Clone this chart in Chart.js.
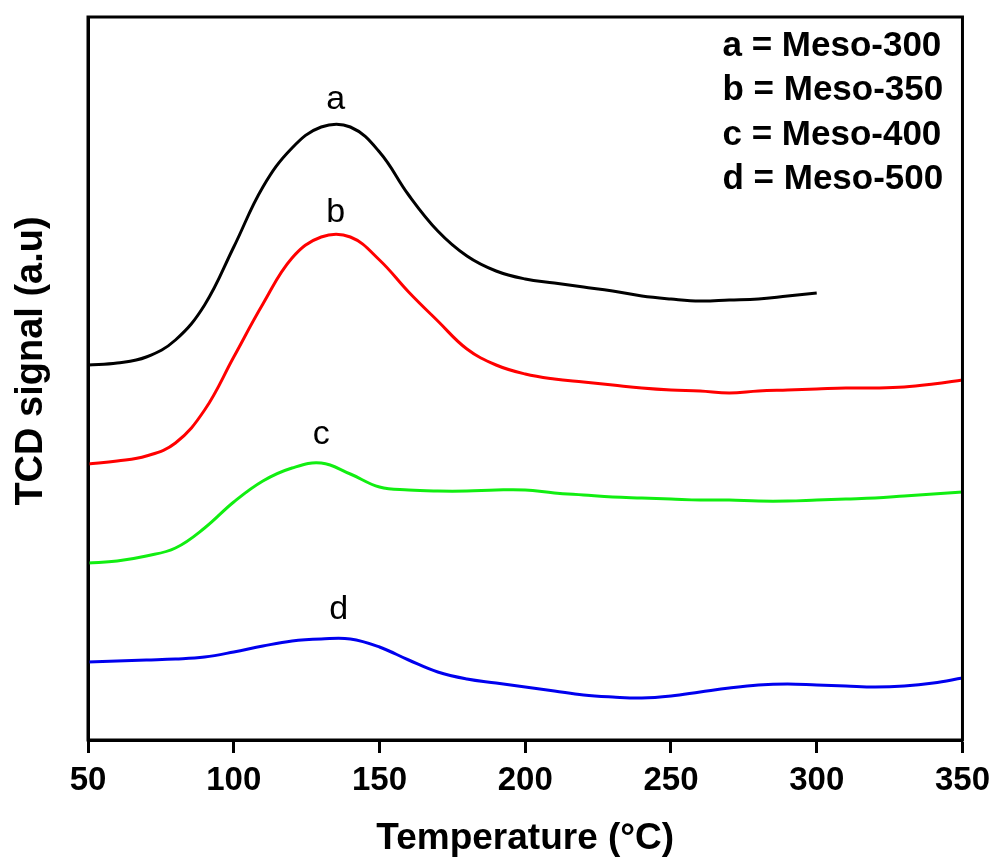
<!DOCTYPE html>
<html>
<head>
<meta charset="utf-8">
<script src="https://cdn.jsdelivr.net/npm/chart.js@4/dist/chart.umd.min.js"></script>
<style>
  html, body { margin: 0; padding: 0; background: #fff; }
  #wrap { width: 998px; height: 861px; }
</style>
</head>
<body>
<div id="wrap"><canvas id="tpd"></canvas></div>
<script>
// TCD signal (arbitrary units) vs temperature, read every 10 degC
var temps_a = [50, 60, 70, 80, 90, 100, 110, 120, 130, 140, 150, 160, 170, 180, 190, 200, 210, 220, 230, 240, 250, 260, 270, 280, 290, 300];
var signal_a = [375, 377, 383, 400, 435, 493, 553, 592, 613, 613, 588, 545, 509, 484, 469, 461, 457, 453, 449, 444, 441, 439, 440, 441, 444, 447];

var temps = [50, 60, 70, 80, 90, 100, 110, 120, 130, 140, 150, 160, 170, 180, 190, 200, 210, 220, 230, 240, 250, 260, 270, 280, 290, 300, 310, 320, 330, 340, 350];
var signal_b = [276, 279, 284, 297, 330, 383, 436, 482, 503, 503, 480, 448, 419, 391, 375, 366, 361, 358, 355, 352, 350, 349, 347, 349, 350, 351, 352, 352, 353, 356, 360];
var signal_c = [177, 179, 184, 192, 212, 238, 259, 272, 277, 266, 253, 250, 249, 249, 250, 250, 247, 245, 243, 242, 241, 240, 240, 239, 239, 240, 241, 242, 244, 246, 248];
var signal_d = [78, 79, 80, 81, 83, 88, 94, 99, 101, 101, 93, 80, 68, 61, 57, 53, 49, 45, 43, 42, 44, 48, 52, 55, 56, 55, 54, 53, 54, 57, 62];

var curve_tags = ['a', 'b', 'c', 'd'];
var curve_names = ['Meso-300', 'Meso-350', 'Meso-400', 'Meso-500'];
var curve_colors = ['#000000', '#ff0000', '#11ee11', '#0000ee'];
// where each letter sits, in data units
var tag_x = [135, 135, 130, 136];
var tag_y = [640, 527, 305, 130];

function to_points(xs, ys) {
    var pts = [];
    for (var i = 0; i < xs.length; i++) {
        pts.push({x: xs[i], y: ys[i]});
    }
    return pts;
}

function line_set(label, xs, ys, color) {
    return {
        label: label,
        data: to_points(xs, ys),
        borderColor: color,
        borderWidth: 3,
        pointRadius: 0,
        fill: false,
        tension: 0.4
    };
}

var font_family = "Arial, 'Liberation Sans', sans-serif";

var frame_and_text = {
    id: 'frame_and_text',
    afterDatasetsDraw: function(chart) {
        var ctx = chart.ctx;
        var area = chart.chartArea;
        var xs = chart.scales.x, ys = chart.scales.y;
        ctx.save();
        ctx.strokeStyle = '#000';
        ctx.lineWidth = 3;
        ctx.strokeRect(area.left, area.top, area.right - area.left, area.bottom - area.top);

        ctx.fillStyle = '#000';
        ctx.textAlign = 'center';
        ctx.textBaseline = 'middle';
        ctx.font = '34px ' + font_family;
        for (var i = 0; i < curve_tags.length; i++) {
            ctx.fillText(curve_tags[i], xs.getPixelForValue(tag_x[i]), ys.getPixelForValue(tag_y[i]));
        }

        ctx.textAlign = 'left';
        ctx.font = 'bold 35px ' + font_family;
        for (var j = 0; j < curve_tags.length; j++) {
            ctx.fillText(curve_tags[j] + ' = ' + curve_names[j], area.right - 240, area.top + 29 + j * 44.5);
        }

        // y title, sits a little above the plot's middle in the original
        ctx.save();
        ctx.translate(32, 361);
        ctx.rotate(-Math.PI / 2);
        ctx.textAlign = 'center';
        ctx.font = 'bold 38px ' + font_family;
        ctx.fillText('TCD signal (a.u)', 0, 0);
        ctx.restore();
        ctx.restore();
    }
};

var ctx = document.getElementById('tpd').getContext('2d');
var myChart = new Chart(ctx, {
    type: 'line',
    data: {
        datasets: [
            line_set('a', temps_a, signal_a, curve_colors[0]),
            line_set('b', temps, signal_b, curve_colors[1]),
            line_set('c', temps, signal_c, curve_colors[2]),
            line_set('d', temps, signal_d, curve_colors[3])
        ]
    },
    options: {
        responsive: true,
        maintainAspectRatio: false,
        animation: false,
        layout: { padding: { top: 17, right: 35, left: 0, bottom: 0 } },
        plugins: {
            legend: { display: false },
            tooltip: { enabled: false }
        },
        scales: {
            x: {
                type: 'linear',
                min: 50,
                max: 350,
                afterFit: function(scale) { scale.height = 121; },
                ticks: {
                    stepSize: 50,
                    color: '#000',
                    padding: 8,
                    font: { family: font_family, size: 33, weight: 'bold' }
                },
                grid: {
                    display: true,
                    drawOnChartArea: false,
                    drawTicks: true,
                    tickLength: 13,
                    tickWidth: 3,
                    color: '#000'
                },
                border: { display: true, color: '#000', width: 3 },
                title: {
                    display: true,
                    text: 'Temperature (\u00B0C)',
                    color: '#000',
                    padding: { top: 0, bottom: 0 },
                    font: { family: font_family, size: 37, weight: 'bold' }
                }
            },
            y: {
                min: 0,
                max: 723,
                afterFit: function(scale) { scale.width = 88; },
                ticks: { display: false },
                grid: { display: false, drawTicks: false },
                border: { display: true, color: '#000', width: 3 },
                title: { display: false }
            }
        }
    },
    plugins: [frame_and_text]
});
</script>
</body>
</html>
